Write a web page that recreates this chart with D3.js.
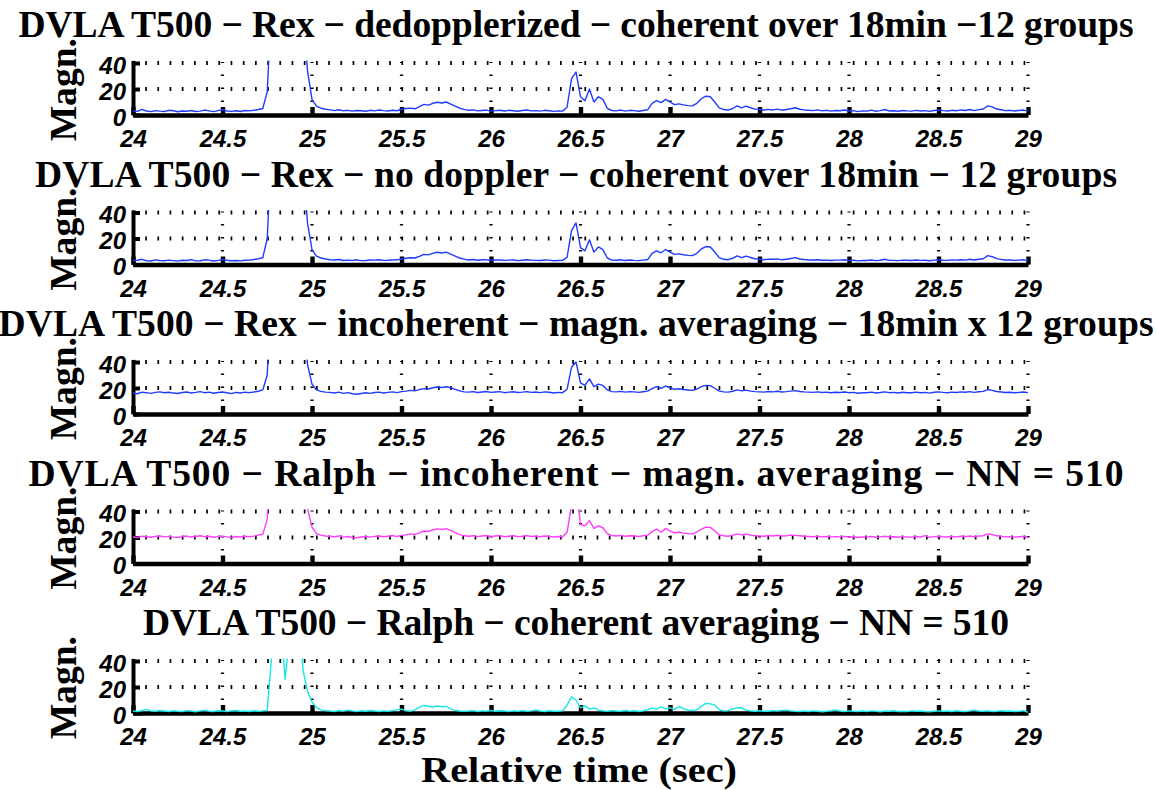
<!DOCTYPE html>
<html>
<head>
<meta charset="utf-8">
<script src="https://cdn.jsdelivr.net/npm/d3@7"></script>
<style>
  html, body { margin: 0; padding: 0; background: #ffffff; }
  svg { display: block; }
  .title, .ylab, .xlab { font-family: "Liberation Serif", "Times New Roman", serif; font-weight: bold; fill: #000; }
  .tick text { font-family: "Liberation Sans", Arial, Helvetica, sans-serif; font-weight: bold; font-style: italic; font-size: 24px; fill: #000; }
</style>
</head>
<body>
<svg id="chart" width="1156" height="790"></svg>
<script>
// Sampling grid of the traces (seconds)
const sampleStart = 24;
const sampleStep = 0.025;

const xTickVals = [24, 24.5, 25, 25.5, 26, 26.5, 27, 27.5, 28, 28.5, 29];
const yTickVals = [0, 20, 40];

const panelTitles = [
  "DVLA T500 \u2212 Rex \u2212 dedopplerized \u2212 coherent over 18min \u221212 groups",
  "DVLA T500 \u2212 Rex \u2212 no doppler \u2212 coherent over 18min \u2212 12 groups",
  "DVLA T500 \u2212 Rex \u2212 incoherent \u2212 magn. averaging \u2212 18min x 12 groups",
  "DVLA T500 \u2212 Ralph \u2212 incoherent \u2212 magn. averaging \u2212 NN = 510",
  "DVLA T500 \u2212 Ralph \u2212 coherent averaging \u2212 NN = 510"
];
// rendered width of each title line
const titleWidths = [1115, 1082, 1155, 1095, 866];
const yLabel = "Magn.";
const xLabel = "Relative time (sec)";
const lineColors = ["#1f3bff", "#1f3bff", "#1f3bff", "#ff3cff", "#12e8e8"];

// Rex, dedopplerized, coherent
const rexDedoppler = [
  3.2, 2.8, 4.3, 3.1, 2.6, 3.4, 3.0, 2.7, 3.6, 3.3, 2.5, 3.1, 2.9, 3.5, 2.7, 3.0, 3.8, 3.2, 2.6, 3.4,
  4.0, 3.1, 2.8, 3.3, 2.7, 3.5, 3.2, 3.6, 4.2, 5.0,
  18, 90, 300, 700, 1000, 800, 400, 160, 80,
  34, 12, 6.8, 5.2, 4.4,
  3.9, 3.4, 4.0, 3.2, 3.6, 3.0, 3.5, 3.3, 2.9, 3.6, 3.2, 3.8, 3.4, 3.1, 3.7, 3.3, 4.4,
  5.0, 5.3, 4.8,
  6.5, 8.2, 7.6, 9.0, 9.8, 9.2, 10.0, 8.4, 6.8, 5.2, 4.3,
  3.6, 3.9, 3.2, 3.5, 3.8, 3.0, 3.4, 3.7, 3.1, 3.6, 3.3, 2.9, 3.5, 3.8, 3.2, 3.4, 3.0, 3.6, 3.3, 2.8, 3.2, 3.0,
  6, 28, 33, 14, 11, 20, 10, 14, 12, 5, 3.5,
  3.2, 3.8, 3.0, 3.6, 3.4, 2.9, 3.5, 4.0,
  9, 11, 9.5, 12, 10, 8, 8.6, 7.8, 7.2, 7.0, 9.0, 12.5, 14.5, 14.0, 10, 5.5, 4.2, 3.8, 5.0, 7.0, 5.5, 6.8, 5.6, 4.5, 4.2,
  3.8, 4.3, 3.9, 4.5, 3.7, 4.2, 4.8, 5.6, 4.4, 3.9,
  3.6, 3.4, 3.9, 3.2, 3.6, 3.0, 3.5, 3.3, 3.8, 3.1,
  3.4, 2.6, 3.2, 3.0, 3.7, 2.9, 3.4, 4.2, 3.1, 3.3,
  2.9, 3.5, 3.2, 3.0, 3.6, 3.1, 3.4, 2.8, 3.5, 3.9,
  3.4, 3.1, 3.6, 3.3, 3.9, 3.5, 4.2, 3.4, 4.1, 4.6,
  7.0, 6.2, 4.6, 4.0, 3.4, 3.6, 3.1, 3.5, 3.8, 3.0
];

// Rex, no doppler correction, coherent
const rexNoDoppler = [
  3.0, 3.3, 4.0, 2.9, 2.7, 3.6, 3.1, 2.9, 3.4, 3.0, 2.6, 3.3, 3.1, 3.7, 2.8, 2.9, 3.6, 3.4, 2.7, 3.2,
  3.8, 3.3, 2.9, 3.1, 2.8, 3.3, 3.4, 3.8, 4.4, 5.2,
  20, 95, 310, 720, 1020, 780, 390, 150, 78,
  32, 11.5, 6.4, 5.0, 4.2,
  3.7, 3.5, 3.8, 3.1, 3.4, 3.2, 3.6, 3.0, 3.1, 3.5, 3.4, 3.6, 3.2, 3.3, 3.5, 3.6, 4.2,
  4.8, 5.2, 5.0,
  6.2, 7.8, 7.4, 8.6, 9.4, 8.8, 9.5, 8.0, 6.5, 5.0, 4.1,
  3.5, 3.8, 3.3, 3.6, 3.6, 3.1, 3.5, 3.5, 3.2, 3.4, 3.5, 3.0, 3.3, 3.6, 3.4, 3.2, 3.1, 3.5, 3.4, 2.9, 3.1, 3.2,
  5.5, 26, 32, 13, 10.5, 19, 9.5, 13.5, 11.5, 5, 3.4,
  3.3, 3.6, 3.1, 3.5, 3.2, 3.0, 3.4, 3.8,
  8.5, 10.5, 9, 11.5, 9.6, 7.8, 8.2, 7.5, 7.0, 6.8, 8.6, 12, 13.8, 13.5, 9.6, 5.3, 4.0, 3.7, 4.8, 6.6, 5.3, 6.4, 5.4, 4.4, 4.0,
  3.7, 4.1, 4.0, 4.3, 3.6, 4.0, 4.6, 5.3, 4.2, 3.8,
  3.5, 3.5, 3.7, 3.3, 3.4, 3.1, 3.4, 3.4, 3.6, 3.2,
  3.3, 2.8, 3.1, 3.1, 3.5, 3.0, 3.3, 4.0, 3.2, 3.2,
  3.0, 3.4, 3.3, 3.1, 3.5, 3.2, 3.3, 2.9, 3.4, 3.7,
  3.3, 3.2, 3.5, 3.4, 3.7, 3.4, 4.0, 3.5, 4.0, 4.4,
  6.8, 6.0, 4.5, 3.9, 3.5, 3.5, 3.2, 3.4, 3.6, 3.1
];

// Rex, incoherent magnitude averaging
const rexIncoherent = [
  16.2, 15.6, 16.8, 16.4, 15.9, 16.6, 17.0, 16.3, 16.7, 16.1, 15.8, 16.5, 16.9, 16.2, 16.6, 17.2, 16.4, 16.8, 16.0, 16.5,
  16.9, 16.3, 15.7, 16.6, 16.2, 16.8, 16.4, 16.9, 17.5, 18.5,
  30, 110, 320, 700, 980, 760, 380, 150, 80,
  38, 23, 18.5, 17.4, 16.8,
  16.6, 16.2, 16.8, 15.9, 16.4, 15.6, 15.2, 15.8, 16.3, 15.9, 16.5, 16.8, 16.2, 16.6, 17.0, 16.4, 17.2,
  17.6, 18.2, 17.8,
  18.8, 19.5, 19.2, 20.2, 20.8, 20.4, 21.0, 20.2, 19.0, 17.8, 17.0,
  16.8, 17.2, 16.5, 16.9, 17.3, 16.6, 16.9, 17.2, 16.4, 16.8, 17.1, 16.5, 16.8, 17.2, 16.6, 16.9, 16.4, 17.0, 16.7, 16.2, 16.6, 16.4,
  19, 36, 40, 24, 22, 27, 21, 23, 22, 18.5, 17.2,
  17.0, 17.4, 16.8, 17.2, 17.0, 16.6, 17.1, 17.6,
  19.5, 21, 19.8, 21.5, 20.2, 19, 19.4, 18.8, 18.5, 18.2, 19.2, 21, 22, 21.8, 19.8, 17.6, 17.0, 16.8, 17.5, 18.6, 17.8, 18.4, 17.6, 17.2, 17.0,
  16.8, 17.3, 17.0, 17.5, 16.9, 17.2, 17.6, 18.0, 17.3, 17.0,
  16.8, 16.6, 17.0, 16.5, 16.8, 16.3, 16.7, 16.5, 16.9, 16.4,
  16.6, 16.0, 16.4, 16.3, 16.8, 16.2, 16.5, 17.0, 16.4, 16.6,
  16.2, 16.7, 16.4, 16.3, 16.8, 16.4, 16.6, 16.1, 16.7, 17.0,
  16.6, 16.4, 16.8, 16.5, 17.0, 16.7, 17.2, 16.6, 17.1, 17.4,
  18.8, 18.2, 17.3, 16.9, 16.5, 16.7, 16.3, 16.6, 16.9, 16.4
];

// Ralph, incoherent magnitude averaging
const ralphIncoherent = [
  20.4, 20.0, 21.0, 20.6, 20.2, 20.8, 21.2, 20.5, 20.9, 20.3, 20.0, 20.7, 21.1, 20.4, 20.8, 21.3, 20.6, 21.0, 20.2, 20.7,
  21.1, 20.5, 20.0, 20.8, 20.4, 21.0, 20.6, 21.1, 21.8, 22.5,
  34, 130, 350, 720, 1000, 780, 400, 160, 90,
  42, 28, 23, 21.8, 21.2,
  21.0, 20.6, 21.2, 20.3, 20.8, 20.1, 19.8, 20.4, 20.8, 20.3, 20.9, 21.2, 20.6, 21.0, 21.4, 20.8, 21.6,
  22.0, 22.8, 22.4,
  23.5, 25.0, 24.6, 25.8, 26.6, 26.2, 26.8, 25.5, 23.8, 22.2, 21.3,
  21.0, 21.4, 20.7, 21.1, 21.5, 20.8, 21.1, 21.4, 20.6, 21.0, 21.3, 20.7, 21.0, 21.4, 20.8, 21.1, 20.6, 21.2, 20.9, 20.4, 20.8, 20.6,
  24, 45, 60, 30, 29, 33, 27, 29, 27.5, 23, 21.5,
  21.2, 21.6, 21.0, 21.4, 21.2, 20.8, 21.3, 21.8,
  24.5, 26.5, 24, 27, 25, 23.5, 24.2, 23.4, 23, 22.6, 24.2, 26.5, 28, 27.8, 25, 22, 21.3, 21.0, 21.8, 22.8, 22.0, 22.6, 21.8, 21.4, 21.2,
  21.0, 21.5, 21.2, 21.7, 21.1, 21.4, 21.8, 21.6, 21.3, 21.0,
  20.8, 20.6, 21.0, 20.5, 20.8, 20.3, 20.7, 20.5, 20.9, 20.4,
  20.6, 20.0, 20.4, 20.3, 20.8, 20.2, 20.5, 21.0, 20.4, 20.6,
  20.2, 20.7, 20.4, 20.3, 20.8, 20.4, 21.4, 20.1, 20.7, 21.0,
  20.6, 20.4, 20.8, 20.5, 21.0, 20.7, 21.2, 20.6, 21.1, 21.4,
  22.8, 22.2, 21.3, 20.9, 20.5, 20.7, 20.3, 20.6, 20.9, 20.2
];

// Ralph, coherent averaging
const ralphCoherent = [
  1.5, 1.2, 1.8, 2.8, 1.6, 1.3, 1.9, 1.5, 1.1, 1.7, 1.4, 1.2, 1.8, 1.5, 1.0, 1.6, 2.0, 1.4, 1.2, 1.7,
  1.5, 1.1, 1.6, 1.9, 1.3, 1.5, 1.2, 1.7, 1.4, 1.6,
  2.0, 45, 300, 70, 26, 60, 200, 80, 33,
  17, 8.5, 4.2, 2.4, 1.8,
  1.5, 1.2, 1.8, 1.4, 2.2, 1.6, 1.1, 1.7, 1.3, 1.9, 1.5, 1.2, 1.6, 1.4, 1.8, 2.6, 3.0,
  1.8, 1.4, 2.4,
  4.5, 5.8, 5.2, 4.6, 5.4, 4.8, 5.0, 3.2, 2.0, 1.5, 1.3,
  1.5, 1.8, 1.2, 1.6, 1.4, 1.9, 1.3, 1.7, 1.5, 1.1, 1.6, 1.4, 1.8, 1.3, 1.6, 2.4, 1.5, 1.2, 1.7, 1.4, 1.3, 1.6,
  6, 12.5, 10, 4, 5.5, 3, 4, 2.2, 1.6, 1.4, 1.8,
  1.5, 1.3, 1.9, 1.4, 1.7, 1.2, 1.6, 2.5,
  4.0, 3.0, 4.8, 3.2, 4.0, 2.8, 5.0, 3.4, 2.2, 2.0, 2.4, 5.0, 7.4, 7.0, 6.0, 2.6, 1.6, 1.8, 3.2, 3.8, 4.0, 2.2, 1.6, 1.4, 1.7,
  1.4, 1.3, 1.8, 1.5, 2.0, 2.2, 1.6, 1.3, 1.1, 1.5,
  1.2, 1.6, 1.4, 1.0, 1.3, 1.7, 2.4, 1.5, 1.2, 1.6,
  1.3, 1.1, 1.5, 1.2, 1.6, 1.4, 1.0, 1.5, 1.3, 1.7,
  1.2, 1.4, 1.1, 1.6, 1.3, 1.5, 1.2, 1.0, 1.4, 1.6,
  1.3, 1.5, 1.2, 1.7, 1.4, 1.1, 1.6, 2.2, 1.5, 1.3,
  1.6, 1.2, 1.4, 1.7, 1.3, 1.5, 1.1, 1.4, 1.8, 0.6
];

const seriesList = [rexDedoppler, rexNoDoppler, rexIncoherent, ralphIncoherent, ralphCoherent];

// ---- layout ----
const plotLeft = 133, plotRight = 1028;
const firstZeroY = 115;       // y pixel of 0 in the first panel
const panelStep = 149.5;      // vertical distance between panels
const plotHeight = 54.6;      // pixel height of the 0..42 range
const yMax = 42;
const titleSize = 37.6;

const svg = d3.select("#chart");

const x = d3.scaleLinear().domain([24, 29]).range([plotLeft, plotRight]);

seriesList.forEach((values, i) => {
  const zeroY = firstZeroY + i * panelStep;
  const y = d3.scaleLinear().domain([0, yMax]).range([zeroY, zeroY - plotHeight]);
  const g = svg.append("g");

  // clip region for the trace
  const clipId = "clip" + i;
  svg.append("clipPath").attr("id", clipId)
    .append("rect")
    .attr("x", plotLeft).attr("y", y(yMax))
    .attr("width", plotRight - plotLeft).attr("height", zeroY - y(yMax));

  // dotted horizontal grid lines
  g.selectAll(".hgrid").data(yTickVals.filter(v => v > 0)).enter()
    .append("line")
    .attr("x1", plotLeft).attr("x2", plotRight)
    .attr("y1", d => y(d)).attr("y2", d => y(d))
    .attr("stroke", "#000").attr("stroke-width", 4)
    .attr("stroke-dasharray", "1.7 10.5");

  // dotted vertical grid lines
  g.selectAll(".vgrid").data(xTickVals.filter(v => v > 24)).enter()
    .append("line")
    .attr("x1", d => x(d)).attr("x2", d => x(d))
    .attr("y1", y(0)).attr("y2", y(40) - 1)
    .attr("stroke", "#000").attr("stroke-width", 3.2)
    .attr("stroke-dasharray", "1.5 11.5");

  // bottom axis
  const xAxis = d3.axisBottom(x)
    .tickValues(xTickVals)
    .tickFormat(d => String(d))
    .tickSize(-8)
    .tickSizeOuter(0)
    .tickPadding(15);
  const gx = g.append("g").attr("transform", `translate(0,${zeroY})`).call(xAxis);
  gx.select(".domain").attr("stroke", "#000").attr("stroke-width", 4.6);
  gx.selectAll(".tick line").attr("stroke", "#000").attr("stroke-width", 4.4);
  gx.selectAll(".tick text").attr("dy", "0.71em");

  // left axis
  const yAxis = d3.axisLeft(y)
    .tickValues(yTickVals)
    .tickFormat(d => String(d))
    .tickSize(-7)
    .tickSizeOuter(0)
    .tickPadding(7);
  const gy = g.append("g").attr("transform", `translate(${plotLeft},0)`).call(yAxis);
  gy.select(".domain").attr("stroke", "#000").attr("stroke-width", 4);
  gy.selectAll(".tick line").attr("stroke", "#000").attr("stroke-width", 4);
  gy.selectAll(".tick text").attr("dy", "0.42em");

  // trace
  const line = d3.line()
    .x((d, k) => x(sampleStart + k * sampleStep))
    .y(d => y(d));
  g.append("path")
    .datum(values)
    .attr("clip-path", `url(#${clipId})`)
    .attr("fill", "none")
    .attr("stroke", lineColors[i])
    .attr("stroke-width", 1.4)
    .attr("stroke-linejoin", "round")
    .attr("d", line);

  // panel title
  svg.append("text").attr("class", "title")
    .attr("x", 576).attr("y", 37 + i * panelStep)
    .attr("text-anchor", "middle")
    .attr("font-size", titleSize)
    .attr("textLength", titleWidths[i])
    .attr("lengthAdjust", "spacing")
    .text(panelTitles[i]);

  // y label
  svg.append("text").attr("class", "ylab")
    .attr("transform", `translate(76,${zeroY - plotHeight / 2 + 2}) rotate(-90)`)
    .attr("text-anchor", "middle")
    .attr("font-size", titleSize)
    .text(yLabel);
});

// x label
svg.append("text").attr("class", "xlab")
  .attr("x", 579).attr("y", 782.1)
  .attr("text-anchor", "middle")
  .attr("font-size", 35.6)
  .attr("textLength", 316)
  .attr("lengthAdjust", "spacingAndGlyphs")
  .text(xLabel);
</script>
</body>
</html>
